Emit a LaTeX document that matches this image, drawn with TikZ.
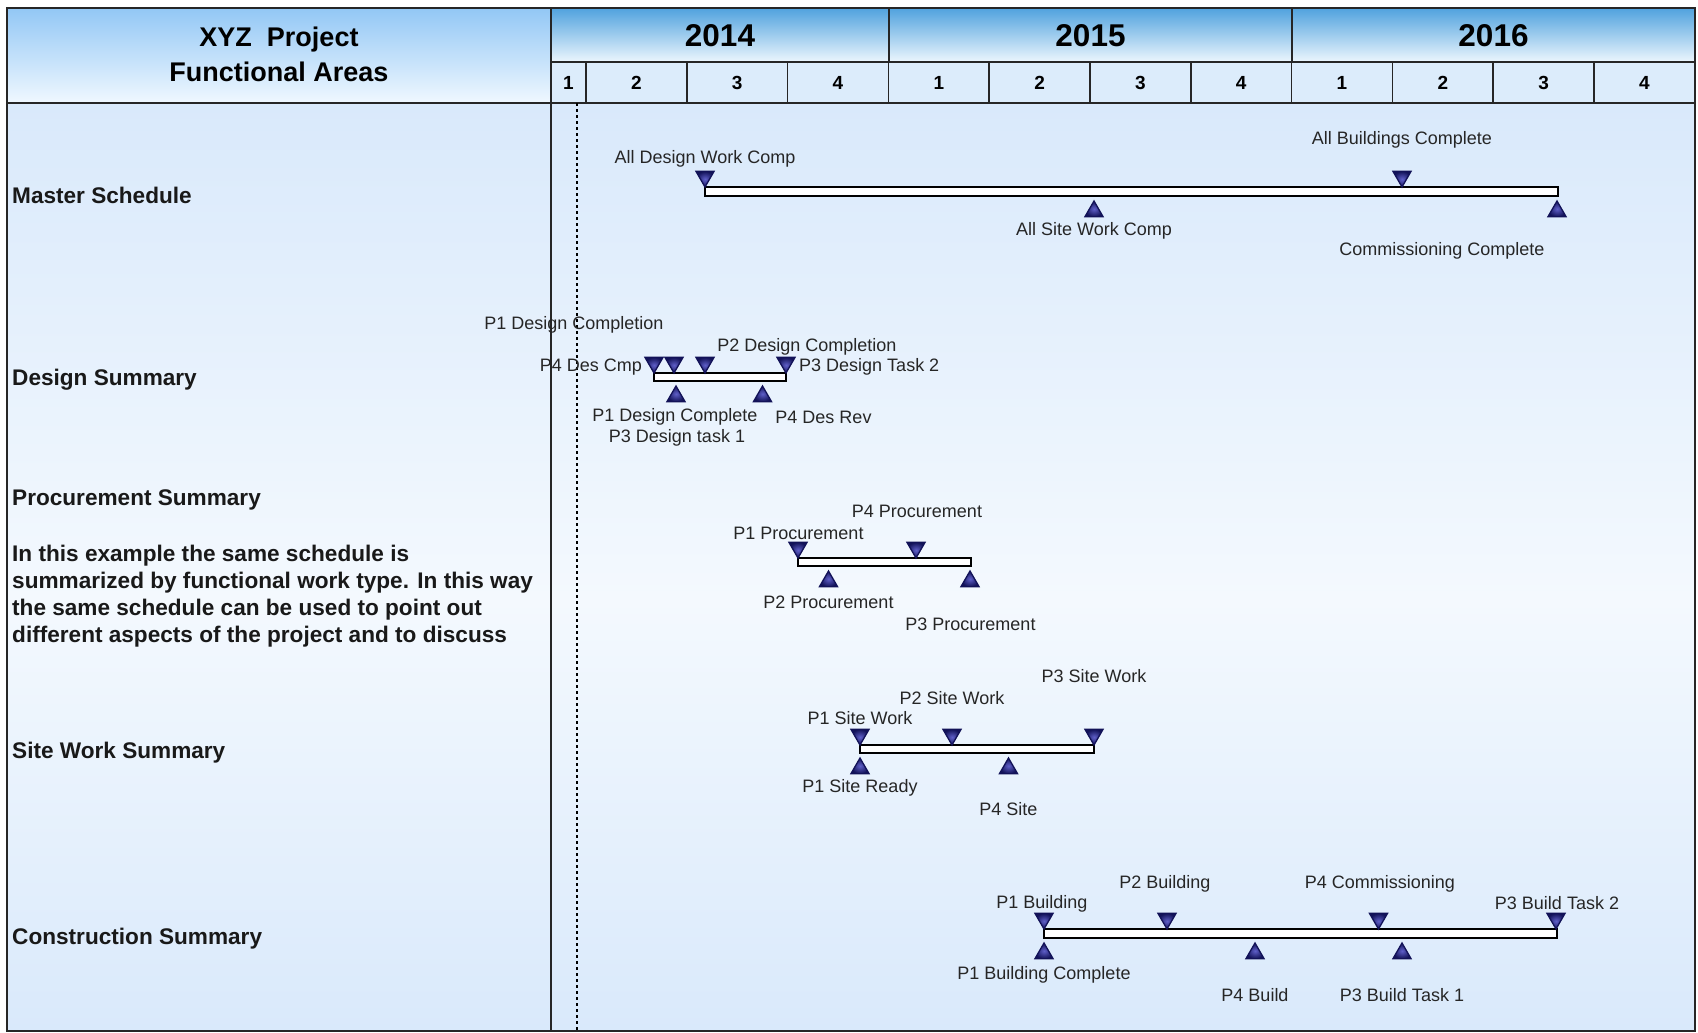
\documentclass[tikz,border=0pt]{standalone}
\usepackage{fontspec}
\setmainfont{Liberation Sans}
\usepackage{xcolor}
\usepackage{tikz}
\usetikzlibrary{shapes.geometric}
\definecolor{yeartop}{RGB}{80,162,222}
\definecolor{yearbot}{RGB}{236,246,253}
\definecolor{titletop}{RGB}{146,199,245}
\definecolor{titlebot}{RGB}{240,248,255}
\definecolor{qtrfill}{RGB}{220,236,251}
\definecolor{bodyblue}{RGB}{217,233,251}
\definecolor{bodypale}{RGB}{244,249,254}
\definecolor{msnavy}{RGB}{18,18,88}
\definecolor{mslight}{RGB}{95,95,200}
\tikzset{
  gridline/.style={draw=black!85, line width=1.5pt},
  taskbar/.style={draw=black, line width=1.6pt, fill=white},
  msup/.style={regular polygon, regular polygon sides=3, minimum size=21pt, inner sep=0pt, outer sep=0pt, draw=msnavy, line width=1.3pt, inner color=mslight, outer color=msnavy, anchor=north},
  msdown/.style={msup, shape border rotate=180, anchor=south},
  lbl/.style={font=\fontsize{18}{20}\selectfont, inner sep=0pt, text=black!85},
  arealbl/.style={font=\fontsize{22.6}{27}\selectfont\bfseries, inner sep=0pt, anchor=west, text=black!90},
  yearlbl/.style={font=\fontsize{31.5}{33}\selectfont\bfseries, inner sep=0pt},
  qtrlbl/.style={font=\fontsize{19}{20}\selectfont\bfseries, inner sep=0pt},
}

\begin{document}
\begin{tikzpicture}[x=1pt, y=-1pt]
    \useasboundingbox (0,0) rectangle (1698,1033);
    \shade[top color=bodyblue, bottom color=bodypale] (7,103) rectangle (1695,600);
    \shade[top color=bodypale, bottom color=bodyblue] (7,600) rectangle (1695,1031);
    \shade[top color=titletop, bottom color=titlebot] (7,8) rectangle (551,103);
    \shade[top color=yeartop, bottom color=yearbot] (551,8) rectangle (1695,62);
    \fill[qtrfill] (551,62) rectangle (1695,103);
    \draw[gridline] (551,8) -- (551,1031);
    \draw[gridline] (7,103) -- (1695,103);
    \draw[gridline] (551,62) -- (1695,62);
    \draw[gridline] (889,8) -- (889,62);
    \draw[gridline] (1292,8) -- (1292,62);
    \foreach \k in {0,...,10}
        \draw[gridline] (586+100.8*\k,62) -- (586+100.8*\k,103);
    \draw[line width=1.3pt, dash pattern=on 3pt off 3pt] (577,103) -- (577,1031);
    \draw[draw=black!85, line width=2.5pt] (7,8) rectangle (1695,1031);

    \node[align=center, font=\fontsize{27}{35}\selectfont\bfseries, inner sep=0pt] (title) at (279,54) {XYZ\ \ Project\\Functional Areas};
    \node[yearlbl] (y2014) at (720,36) {2014};
    \node[yearlbl] (y2015) at (1090.5,36) {2015};
    \node[yearlbl] (y2016) at (1493.5,36) {2016};
    \node[qtrlbl] (qtr0) at (568.5,83) {1};
    \foreach \q [count=\k] in {2,3,4,1,2,3,4,1,2,3,4}
        \node[qtrlbl] (qtr\k) at (535.6+100.8*\k,83) {\q};

    \node[arealbl] (master) at (12,195) {Master Schedule};
    \node[arealbl] (design) at (12,380) {Design Summary};
    \node[arealbl] (procure) at (12,500) {Procurement Summary};
    \node[arealbl, align=left] (note) at (12,596) {In this example the same schedule is\\summarized by functional work type. In this way\\the same schedule can be used to point out\\different aspects of the project and to discuss};
    \node[arealbl] (sitework) at (12,753) {Site Work Summary};
    \node[arealbl] (construct) at (12,939) {Construction Summary};

    \draw[taskbar] (705,187) rectangle (1558,196);
    \node[msdown] (m-adw) at (705,187) {};
    \node[msdown] (m-abc) at (1402,187) {};
    \node[msup] (m-asw) at (1094,201) {};
    \node[msup] (m-cc) at (1557,201) {};
    \node[lbl] (l-adw) at (705,159) {All Design Work Comp};
    \node[lbl] (l-abc) at (1402,140) {All Buildings Complete};
    \node[lbl] (l-asw) at (1094,231) {All Site Work Comp};
    \node[lbl] (l-cc) at (1442,251) {Commissioning Complete};

    \draw[taskbar] (654,373) rectangle (786,381);
    \node[msdown] (d-p4c) at (654,373) {};
    \node[msdown] (d-p1c) at (674,373) {};
    \node[msdown] (d-p2c) at (705,373) {};
    \node[msdown] (d-p3t2) at (786,373) {};
    \node[msup] (d-p1) at (676,386) {};
    \node[msup] (d-p4r) at (762.5,386) {};
    \node[lbl] (l-p1dc) at (574,325) {P1 Design Completion};
    \node[lbl] (l-p2dc) at (807,347) {P2 Design Completion};
    \node[lbl, anchor=east] (l-p4dc) at (642,367) {P4 Des Cmp};
    \node[lbl, anchor=west] (l-p3t2) at (799,367) {P3 Design Task 2};
    \node[lbl] (l-p1dd) at (675,417) {P1 Design Complete};
    \node[lbl] (l-p4dr) at (823.5,417) {P4 Des Rev};
    \node[lbl] (l-p3t1) at (677,438) {P3 Design task 1};

    \draw[taskbar] (798,558) rectangle (971,566);
    \node[msdown] (p-p1) at (798,558) {};
    \node[msdown] (p-p4) at (916,558) {};
    \node[msup] (p-p2) at (828.5,571) {};
    \node[msup] (p-p3) at (970,571) {};
    \node[lbl] (l-pp4) at (917,511) {P4 Procurement};
    \node[lbl] (l-pp1) at (798.5,533) {P1 Procurement};
    \node[lbl] (l-pp2) at (828.5,602) {P2 Procurement};
    \node[lbl] (l-pp3) at (970.5,624.5) {P3 Procurement};

    \draw[taskbar] (860,745) rectangle (1094,753);
    \node[msdown] (s-p1) at (860,745) {};
    \node[msdown] (s-p2) at (952,745) {};
    \node[msdown] (s-p3) at (1094,745) {};
    \node[msup] (s-p1r) at (860,758) {};
    \node[msup] (s-p4) at (1008.5,758) {};
    \node[lbl] (l-sp3) at (1094,676.5) {P3 Site Work};
    \node[lbl] (l-sp2) at (952,698) {P2 Site Work};
    \node[lbl] (l-sp1) at (860,718.5) {P1 Site Work};
    \node[lbl] (l-sp1r) at (860,787.5) {P1 Site Ready};
    \node[lbl] (l-sp4) at (1008.5,809.5) {P4 Site};

    \draw[taskbar] (1044,929) rectangle (1557,938);
    \node[msdown] (c-p1) at (1044,929) {};
    \node[msdown] (c-p2) at (1167,929) {};
    \node[msdown] (c-p4c) at (1378.5,929) {};
    \node[msdown] (c-p3t2) at (1556,929) {};
    \node[msup] (c-p1c) at (1044,943) {};
    \node[msup] (c-p4b) at (1255,943) {};
    \node[msup] (c-p3t1) at (1402,943) {};
    \node[lbl] (l-cp2) at (1165,884) {P2 Building};
    \node[lbl] (l-cp4c) at (1380,884) {P4 Commissioning};
    \node[lbl] (l-cp1) at (1042,903.5) {P1 Building};
    \node[lbl] (l-cp3t2) at (1557,903.5) {P3 Build Task 2};
    \node[lbl] (l-cp1c) at (1044,975) {P1 Building Complete};
    \node[lbl] (l-cp4b) at (1255,995) {P4 Build};
    \node[lbl] (l-cp3t1) at (1402,995) {P3 Build Task 1};
  \end{tikzpicture}
\end{document}
